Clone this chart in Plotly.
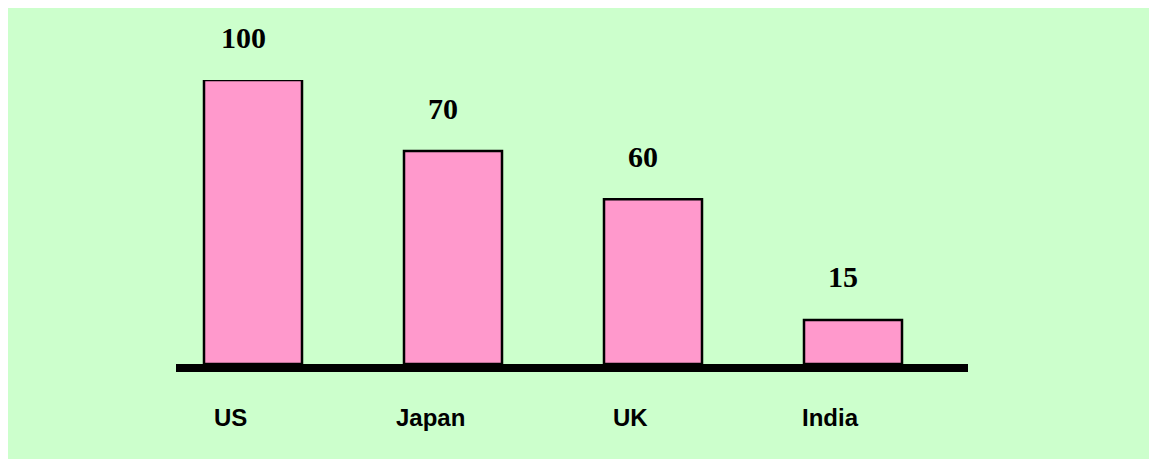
import plotly.graph_objects as go

countries = ["US", "Japan", "UK", "India"]
bar_heights = [100, 75, 58, 15.5]
value_labels = ["100", "70", "60", "15"]

GREEN = "#CCFFCC"
PINK = "#FF99CC"

fig = go.Figure()
fig.add_trace(go.Bar(
    x=countries, y=bar_heights, width=0.49,
    marker=dict(color=PINK, line=dict(color="black", width=2.5)),
    hoverinfo="skip",
))

annotations = []
for c, h, lab in zip(countries, bar_heights, value_labels):
    annotations.append(dict(
        x=c, y=h, xref="x", yref="y", text=lab, showarrow=False,
        xshift=-10, yshift=43, yanchor="middle", xanchor="center",
        font=dict(family="Times New Roman, Liberation Serif, serif", size=30,
                  color="black", weight="bold"),
    ))
    annotations.append(dict(
        x=c, y=0, xref="x", yref="y", text=c, showarrow=False,
        xshift=-23, yshift=-53, yanchor="middle", xanchor="center",
        font=dict(family="Arial, Liberation Sans, sans-serif", size=24,
                  color="black", weight="bold"),
    ))

fig.update_layout(
    width=1149, height=459,
    margin=dict(l=176, r=181, t=80, b=95, pad=0),
    paper_bgcolor="white",
    plot_bgcolor="rgba(0,0,0,0)",
    showlegend=False,
    annotations=annotations,
    shapes=[dict(type="rect", xref="paper", yref="paper",
                 x0=-0.2121, x1=1.4, y0=-0.5, y1=1.2535,
                 fillcolor=GREEN, line=dict(width=0), layer="below")],
    xaxis=dict(range=[-0.385, 3.575], showline=True, linecolor="black",
               linewidth=8, showticklabels=False, ticks="", showgrid=False,
               zeroline=False, fixedrange=True),
    yaxis=dict(range=[0, 100], visible=False, showgrid=False, zeroline=False,
               fixedrange=True),
)

fig.write_html("out.html")
